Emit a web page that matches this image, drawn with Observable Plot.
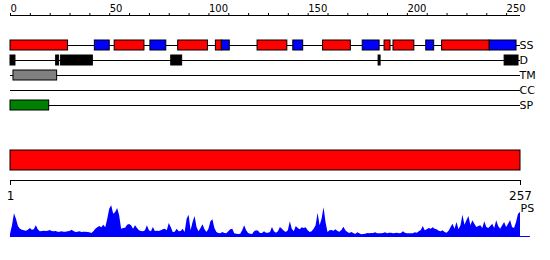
<!DOCTYPE html>
<html>
<head>
<meta charset="utf-8">
<script src="https://cdn.jsdelivr.net/npm/d3@7"></script>
<script src="https://cdn.jsdelivr.net/npm/@observablehq/plot@0.6"></script>
<style>
  html, body { margin: 0; padding: 0; background: white; }
  #chart { width: 550px; height: 260px; overflow: hidden; }
  #chart svg { display: block; }
</style>
</head>
<body>
<div id="chart"></div>
<script>
// ---- data ----
const seqLength = 257;
const tracks = ["SS", "D", "TM", "CC", "SP"];
const rulerTicks = [0, 10, 20, 30, 40, 50, 60, 70, 80, 90, 100, 110, 120, 130, 140, 150, 160, 170, 180, 190, 200, 210, 220, 230, 240, 250];
const rulerLabels = [0, 50, 100, 150, 200, 250];
const seqTicks = [0, 257];
const seqTickLabels = ["1", "257"];

const helices = [[0, 29], [52.5, 67.5], [84.5, 99.5], [103.5, 106.5], [124.5, 139.5], [157.5, 171.5], [188.5, 191.5], [193, 203.5], [217.5, 241.5]];
const strands = [[42.5, 50], [70.5, 78.5], [106.5, 110.5], [142.5, 147.5], [177.5, 186], [209.5, 213.5], [241.5, 255]];
const disorder = [[0, 2.5], [23, 24.5], [25.5, 41.5], [81, 86.5], [185.5, 186.5], [249, 256]];
const transmembrane = [[1.5, 23.5]];
const coiledCoil = [];
const signalPeptide = [[0, 19.5]];

const psScores = [
  .07,.32,.68,.52,.30,.22,.19,.17,.16,.19,
  .24,.19,.20,.32,.20,.14,.15,.16,.15,.16,
  .18,.15,.14,.15,.13,.13,.14,.13,.13,.14,
  .15,.19,.15,.12,.13,.14,.12,.13,.13,.12,
  .11,.09,.14,.22,.26,.30,.26,.34,.26,.52,
  .82,.92,.67,.72,.84,.62,.22,.24,.25,.34,
  .36,.32,.22,.32,.24,.17,.15,.14,.17,.32,
  .17,.14,.27,.15,.16,.15,.17,.20,.22,.17,
  .39,.27,.12,.13,.22,.14,.15,.22,.12,.52,
  .64,.17,.42,.60,.27,.14,.24,.35,.20,.12,
  .22,.44,.50,.24,.12,.09,.08,.12,.09,.08,
  .14,.20,.22,.08,.07,.06,.07,.17,.32,.17,
  .09,.07,.06,.14,.17,.16,.09,.09,.14,.10,
  .10,.12,.27,.14,.10,.14,.27,.22,.16,.12,
  .17,.44,.22,.14,.30,.24,.20,.26,.24,.26,
  .17,.12,.14,.22,.32,.70,.32,.52,.86,.42,
  .12,.17,.18,.16,.20,.15,.13,.18,.28,.17,
  .12,.09,.12,.09,.06,.11,.08,.05,.06,.07,
  .09,.08,.09,.09,.11,.08,.08,.08,.09,.11,
  .08,.10,.10,.08,.09,.10,.08,.09,.14,.10,
  .08,.08,.08,.08,.11,.10,.14,.18,.30,.17,
  .20,.24,.22,.26,.22,.20,.16,.14,.17,.12,
  .10,.16,.27,.37,.22,.42,.20,.32,.64,.34,
  .47,.60,.32,.47,.37,.27,.30,.32,.24,.44,
  .27,.24,.30,.37,.24,.47,.30,.22,.32,.42,
  .27,.37,.48,.27,.24,.42,.67,.72
];

// ---- build table ----
const typeColor = {helix: "#ff0000", strand: "#0000ff", disorder: "#000000", tm: "#808080", cc: "#ffa500", sp: "#008000"};
const segments = [
  ...helices.map(([s, e]) => ({track: "SS", start: s, end: e, type: "helix"})),
  ...strands.map(([s, e]) => ({track: "SS", start: s, end: e, type: "strand"})),
  ...disorder.map(([s, e]) => ({track: "D", start: s, end: e, type: "disorder"})),
  ...transmembrane.map(([s, e]) => ({track: "TM", start: s, end: e, type: "tm"})),
  ...coiledCoil.map(([s, e]) => ({track: "CC", start: s, end: e, type: "cc"})),
  ...signalPeptide.map(([s, e]) => ({track: "SP", start: s, end: e, type: "sp"}))
];

const W = 550;
const xScale = {domain: [0, seqLength], range: [10, 520]};
const baseStyle = {fontFamily: "DejaVu Sans", fontSize: "10px", background: "transparent", overflow: "visible", color: "black"};
const root = document.getElementById("chart");

// top ruler
root.append(Plot.plot({
  width: W, height: 20, marginTop: 15, marginBottom: 4, marginLeft: 10, marginRight: 30,
  style: baseStyle,
  x: {...xScale},
  y: {domain: [0, 1], range: [15, 16], axis: null},
  marks: [
    Plot.ruleY([0], {x1: 0, x2: seqLength, stroke: "black"}),
    Plot.axisX(rulerTicks, {
      anchor: "top", tickSize: 3, tickPadding: 1, textAnchor: "start", fontSize: 10,
      tickFormat: d => rulerLabels.includes(d) ? String(d) : ""
    })
  ]
}));

// feature tracks
root.append(Plot.plot({
  width: W, height: 120, marginTop: 0, marginBottom: 0, marginLeft: 10, marginRight: 30,
  style: baseStyle,
  x: {...xScale, axis: null},
  y: {type: "band", domain: tracks, range: [17.5, 92.5], paddingInner: 1/3, paddingOuter: 1/6, axis: null},
  marks: [
    Plot.ruleY(tracks, {y: d => d, x1: 0, x2: seqLength, stroke: "black"}),
    Plot.barX(segments, {x1: "start", x2: "end", y: "track", fill: d => typeColor[d.type], stroke: "black", strokeWidth: 1}),
    Plot.text(tracks, {x: seqLength, y: d => d, text: d => d, textAnchor: "start", dx: -1, fontSize: 11})
  ]
}));

// sequence bar + ruler
root.append(Plot.plot({
  width: W, height: 62, marginTop: 10, marginBottom: 22, marginLeft: 10, marginRight: 30,
  style: baseStyle,
  x: {...xScale},
  y: {domain: [0, 1], axis: null},
  marks: [
    Plot.barX([seqLength], {x1: 0, x2: d => d, fill: "#ff0000", stroke: "black", insetBottom: 10}),
    Plot.ruleY([0], {x1: 0, x2: seqLength, stroke: "black"}),
    Plot.axisX(seqTicks, {
      anchor: "bottom", tickSize: 5, tickPadding: 6, fontSize: 12,
      tickFormat: d => seqTickLabels[seqTicks.indexOf(d)]
    })
  ]
}));

// PS profile
root.append(Plot.plot({
  width: W, height: 58, marginTop: 0, marginBottom: 0, marginLeft: 10, marginRight: 30,
  style: baseStyle,
  x: {...xScale, axis: null},
  y: {domain: [0, 1], range: [34, 0.7], axis: null},
  marks: [
    Plot.areaY(psScores, {x: (d, i) => i, y: d => d, fill: "#0000ff"}),
    Plot.ruleY([0], {x1: 0, x2: 262, stroke: "#0000ff"}),
    Plot.text(["PS"], {x: seqLength, y: 0.85, text: d => d, textAnchor: "start", fontSize: 11})
  ]
}));
</script>
</body>
</html>
